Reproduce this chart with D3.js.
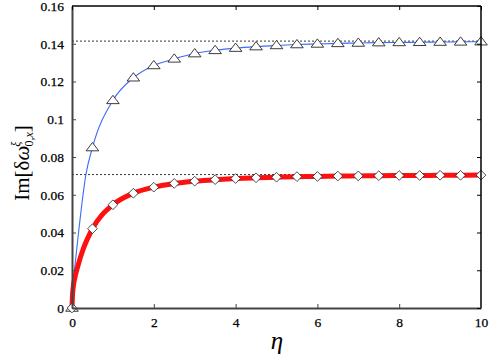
<!DOCTYPE html>
<html>
<head>
<meta charset="utf-8">
<script src="https://cdn.jsdelivr.net/npm/d3@7"></script>
<style>
  body { margin: 0; background: #fff; }
  svg text { font-family: "Liberation Serif", "DejaVu Serif", serif; }
</style>
</head>
<body>
<div id="chart"></div>
<script>
// marker positions (eta = 0, 0.5, ... 10)
const etaMarks = [0, 0.5, 1, 1.5, 2, 2.5, 3, 3.5, 4, 4.5, 5, 5.5, 6, 6.5, 7, 7.5, 8, 8.5, 9, 9.5, 10]
const blueMarks = [0, 0.085, 0.110, 0.122, 0.1285, 0.132, 0.1348, 0.1365, 0.1377, 0.1385, 0.1391, 0.1396, 0.1399, 0.1402, 0.1404, 0.1406, 0.1407, 0.1408, 0.1409, 0.141, 0.1411]
const redMarks = [0, 0.042, 0.0547, 0.0608, 0.064, 0.066, 0.0672, 0.068, 0.0686, 0.069, 0.0693, 0.0696, 0.0697, 0.0699, 0.07, 0.0701, 0.0702, 0.0702, 0.0703, 0.0703, 0.0704]

// extra curve points read near the origin
const blueCurveEta = [0, 0.01, 0.03, 0.08, 0.16, 0.34]
const blueCurveVal = [0, 0.006, 0.013, 0.024, 0.040, 0.0707]
const redCurveEta = [0, 0.01, 0.03, 0.07, 0.14, 0.27]
const redCurveVal = [0, 0.006, 0.011, 0.016, 0.022, 0.031]

const limits = [0.1414, 0.0707]
const xTicks = [0, 2, 4, 6, 8, 10]
const yTicks = [0, 0.02, 0.04, 0.06, 0.08, 0.1, 0.12, 0.14, 0.16]

const width = 490, height = 355
const m = {left: 72, right: 9, top: 6, bottom: 47}

const svg = d3.select('#chart').append('svg')
  .attr('width', width).attr('height', height)

const x = d3.scaleLinear().domain([0, 10]).range([m.left, width - m.right])
const y = d3.scaleLinear().domain([0, 0.16]).range([height - m.bottom, m.top])

const zip = (a, b) => a.map((d, i) => [d, b[i]])
const blueLine = zip(blueCurveEta, blueCurveVal).concat(zip(etaMarks, blueMarks).slice(1))
const redLine = zip(redCurveEta, redCurveVal).concat(zip(etaMarks, redMarks).slice(1))

const line = d3.line().x(d => x(d[0])).y(d => y(d[1])).curve(d3.curveMonotoneX)

// dotted asymptotes
svg.selectAll('.limit').data(limits).enter().append('line')
  .attr('x1', x(0)).attr('x2', x(10))
  .attr('y1', d => y(d)).attr('y2', d => y(d))
  .attr('stroke', '#000').attr('stroke-width', 0.8)
  .attr('stroke-dasharray', '2,2')

svg.append('path').attr('d', line(blueLine))
  .attr('fill', 'none').attr('stroke', '#3d6cf5').attr('stroke-width', 1.1)
svg.append('path').attr('d', line(redLine))
  .attr('fill', 'none').attr('stroke', '#ff1010').attr('stroke-width', 5)

// markers
const tri = d3.symbol().type(d3.symbolTriangle).size(44)
svg.selectAll('.tri').data(zip(etaMarks, blueMarks)).enter().append('path')
  .attr('d', tri)
  .attr('transform', d => `translate(${x(d[0])},${y(d[1]) + 0.5}) scale(1.25,0.95)`)
  .attr('fill', '#fff').attr('stroke', '#222').attr('stroke-width', 0.8)

const dia = d3.symbol().type(d3.symbolDiamond2).size(60)
svg.selectAll('.dia').data(zip(etaMarks, redMarks)).enter().append('path')
  .attr('d', dia)
  .attr('transform', d => `translate(${x(d[0])},${y(d[1])})`)
  .attr('fill', '#fff').attr('stroke', '#222').attr('stroke-width', 0.8)

// frame
const x0 = x(0), x1 = x(10), y0 = y(0), y1 = y(0.16)
svg.append('line').attr('x1', x0).attr('x2', x1).attr('y1', y1).attr('y2', y1)
  .attr('stroke', '#000').attr('stroke-width', 1.5)
svg.append('line').attr('x1', x1).attr('x2', x1).attr('y1', y1).attr('y2', y0)
  .attr('stroke', '#000').attr('stroke-width', 1.5)

const bottomAxis = svg.append('g').attr('transform', `translate(0,${y0})`)
  .call(d3.axisBottom(x).tickValues(xTicks).tickSizeInner(-4).tickSizeOuter(0).tickPadding(9).tickFormat(d3.format('d')))
const leftAxis = svg.append('g').attr('transform', `translate(${x0},0)`)
  .call(d3.axisLeft(y).tickValues(yTicks).tickSizeInner(-4).tickSizeOuter(0).tickPadding(8).tickFormat(d => d === 0 ? '0' : d3.format('.2~f')(d)))
const rightAxis = svg.append('g').attr('transform', `translate(${x1},0)`)
  .call(d3.axisRight(y).tickValues(yTicks).tickSizeInner(-4).tickSizeOuter(0).tickFormat(''))
const topAxis = svg.append('g').attr('transform', `translate(0,${y1})`)
  .call(d3.axisTop(x).tickValues(xTicks).tickSizeInner(-4).tickSizeOuter(0).tickFormat(''))

;[bottomAxis, leftAxis].forEach(g => {
  g.attr('font-family', null)
  g.select('.domain').attr('stroke', '#444').attr('stroke-width', 2)
  g.selectAll('.tick line').attr('stroke', '#444')
  g.selectAll('.tick text').attr('font-size', 13.5).attr('fill', '#000')
    .attr('stroke', '#000').attr('stroke-width', 0.25)
})
;[rightAxis, topAxis].forEach(g => {
  g.select('.domain').remove()
  g.selectAll('.tick line').attr('stroke', '#000')
})

// axis titles
svg.append('text').attr('x', 277).attr('y', 349)
  .attr('text-anchor', 'middle').attr('font-size', 25).attr('font-style', 'italic')
  .text('η')

const yl = svg.append('text')
  .attr('transform', 'translate(29,163) rotate(-90)')
  .attr('text-anchor', 'middle').attr('font-size', 21)
yl.append('tspan').text('Im[δ')
yl.append('tspan').attr('font-style', 'italic').text('ω')
yl.append('tspan').attr('font-size', 12).attr('font-style', 'italic').attr('dy', -9).attr('dx', -1).text('ξ')
yl.append('tspan').attr('font-size', 12).attr('dy', 13).attr('dx', -5).text('0,')
yl.append('tspan').attr('font-size', 12).attr('font-style', 'italic').text('x')
yl.append('tspan').attr('dy', -4).text(']')
</script>
</body>
</html>
